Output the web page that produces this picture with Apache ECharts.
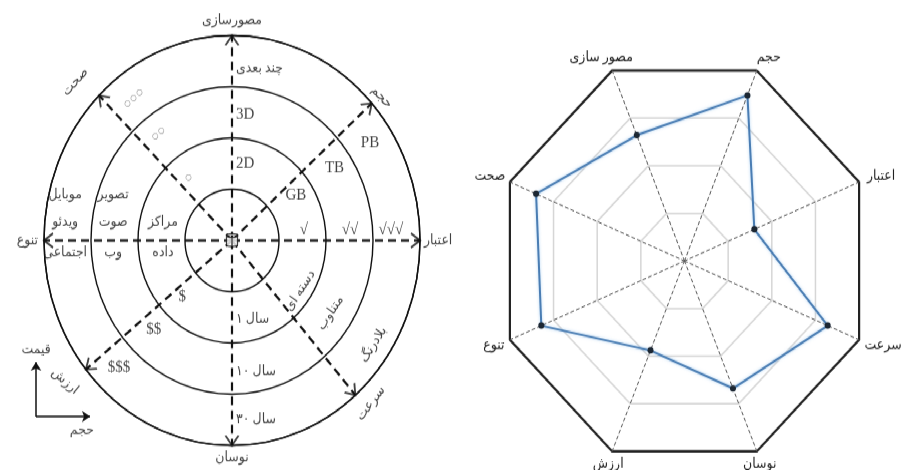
<!DOCTYPE html>
<html><head><meta charset="utf-8">
<script src="https://cdn.jsdelivr.net/npm/echarts@6/dist/echarts.min.js"></script>
<style>
html,body{margin:0;padding:0;background:#fff;overflow:hidden;width:903px;height:470px}
#wrap{width:903px;height:470px;position:relative;overflow:hidden}
#main{position:absolute;left:0;top:0;width:903px;height:431px;transform:scaleY(1.0905);transform-origin:0 0}
</style></head><body><div id="wrap"><div id="main"></div></div>
<script>
// ---------- data: left concept diagram ----------
const axisNames = ['مصورسازی','حجم','اعتبار','سرعت','نوسان','ارزش','تنوع','صحت'];
const tierLabels = [
  ['2D','3D','چند بعدی'],
  ['GB','TB','PB'],
  ['√','√√','√√√'],
  ['دسته ای','متناوب','بلادرنگ'],
  ['۱ سال','۱۰ سال','۳۰ سال'],
  ['$','$$','$$$'],
  ['مراکز\nداده','تصویر\nصوت\nوب','موبایل\nویدئو\nاجتماعی'],
  ['○','○○','○○○']
];
const ringCount = 4;
const legendNames = ['قیمت','حجم'];

// ---------- data: radar ----------
const radarIndicators = ['حجم','مصور سازی','صحت','تنوع','ارزش','نوسان','سرعت','اعتبار'];
const radarValues = [0.87,0.66,0.85,0.82,0.47,0.67,0.82,0.40];

// ---------- layout / style (not data) ----------
const FONT = "'Liberation Serif','DejaVu Serif','DejaVu Sans',serif";
const UNIT = 47;
const axisAngle = [90,42,0,311,270,219,180,135];
const nameLayout = [
  {r:4, a:90, pos:'top', dist:7},
  {r:4.24, a:41.3, rot:-45},
  {r:4, a:0, pos:'right', dist:4},
  {r:4.34, a:312.9, rot:50},
  {r:4, a:270, pos:'bottom', dist:5},
  {r:4.49, a:217.7, rot:-40},
  {r:4, a:180, pos:'left', dist:6},
  {r:4.55, a:137.1, rot:45}
];
const tierLayout = [
  {a:90, r:[1.50,2.46,3.36], pos:'right', dist:4},
  {a:33, r:[1.62,2.6,3.5]},
  {a:0, r:[1.53,2.51,3.38], pos:'top', dist:2},
  {a:326, r:[1.75,2.53,3.63], rot:55},
  {a:270, r:[1.54,2.56,3.49], pos:'right', dist:4},
  {a:226, r:[1.52,2.4,3.46]},
  {a:180, r:[1.47,2.53,3.55], split:true},
  {a:127, r:[1.53,2.6,3.47], rot:40, color:'#7a7a7a', size:13}
];
// horizontal shift (px) of each radar name, same order as radarIndicators
const radarNameShift = [7,-6,-8,-4,1,-2,12,10];

const isLatin = s => /[A-Za-z$√]/.test(s);

const axisLineSeries = axisAngle.map(a => ({
  type:'line', coordinateSystem:'polar', polarIndex:0,
  data:[[0,a],[ringCount,a]], symbol:'none', silent:true,
  lineStyle:{color:'#111', width:2.2, type:[8,5]}, z:3
}));

const arrowData = axisAngle.map(a => ({value:[ringCount - 4.5/UNIT, a], symbolRotate:a-90}));

// label offsets are applied in the rotated text frame, so convert a screen shift into it
function localOffset(dx, dy, rotDeg) {
  const t = rotDeg * Math.PI / 180, c = Math.cos(t), s = Math.sin(t);
  return [dx*c - dy*s, dx*s + dy*c];
}

const nameData = axisNames.map((n,i) => {
  const L = nameLayout[i];
  const extra = (L.r - ringCount) * UNIT, rad = L.a * Math.PI / 180;
  const rot = L.rot || 0;
  return {value:[ringCount, L.a], label:{formatter:n, position:L.pos||'inside', distance:L.dist||0,
    rotate:rot, offset:localOffset(extra*Math.cos(rad), -extra*Math.sin(rad), rot)}};
});

const tierData = [];
tierLabels.forEach((tiers,i) => {
  const L = tierLayout[i];
  tiers.forEach((t,k) => {
    const fs = L.size || (isLatin(t) ? 15 : 12.5);
    if (L.split) {
      const lines = t.split('\n');
      const below = lines.pop();
      tierData.push({value:[L.r[k], L.a], label:{formatter:lines.join('\n'), position:'top', distance:4, fontSize:fs, lineHeight:25}});
      tierData.push({value:[L.r[k], L.a], label:{formatter:below, position:'bottom', distance:5, fontSize:fs}});
    } else {
      tierData.push({value:[L.r[k], L.a], label:{formatter:t, position:L.pos||'inside', distance:L.dist||0, rotate:L.rot||0, color:L.color||'#111', fontSize:fs}});
    }
  });
});

const nameRich = {};
radarNameShift.forEach((s,i) => {
  nameRich['n'+i] = {fontSize:12.5, fontFamily:FONT, color:'#222',
    padding: s >= 0 ? [0,0,0,2*s] : [0,-2*s,0,0]};
});

const option = {
  animation:false,
  backgroundColor:'#fff',
  textStyle:{fontFamily:FONT},
  polar:{center:[232, 220.5], radius:188},
  angleAxis:{type:'value', min:0, max:360, startAngle:0, clockwise:false,
    axisLine:{show:true, lineStyle:{color:'#111', width:1.4}}, axisTick:{show:false},
    axisLabel:{show:false}, splitLine:{show:false}},
  radiusAxis:{type:'value', min:0, max:ringCount, interval:1,
    axisLine:{show:false}, axisTick:{show:false}, axisLabel:{show:false},
    splitLine:{show:true, lineStyle:{color:'#111', width:1.4}}},
  grid:{left:36, top:332, width:54, height:50, show:false},
  xAxis:{type:'value', min:0, max:1, show:false},
  yAxis:{type:'value', min:0, max:1, show:false},
  radar:[
    {center:[684.5, 239.3], radius:189, startAngle:67.5, shape:'polygon', splitNumber:4,
     indicator: radarIndicators.map(n => ({name:n, max:1, min:0})),
     nameGap:13,
     axisName:{color:'#222', fontSize:12.5, fontFamily:FONT, align:'center',
       formatter:(name) => '{n' + radarIndicators.indexOf(name) + '|' + name + '}', rich:nameRich},
     splitLine:{lineStyle:{color:'#d6d6d6', width:1.5}},
     splitArea:{show:false},
     axisLine:{lineStyle:{color:'#555', width:1, type:[3,3]}},
     axisTick:{show:false}, axisLabel:{show:false}},
    {center:[684.5, 239.3], radius:189, startAngle:67.5, shape:'polygon', splitNumber:1,
     indicator: radarIndicators.map(n => ({name:'', max:1, min:0})),
     axisName:{show:false},
     splitLine:{lineStyle:{color:'#222', width:2.2}},
     splitArea:{show:false}, axisLine:{show:false}, axisTick:{show:false}, axisLabel:{show:false}}
  ],
  series:[
    ...axisLineSeries,
    {type:'scatter', coordinateSystem:'polar', data:arrowData, silent:true,
     symbol:'path://M0,9 L6,0 L12,9', symbolSize:[13,9],
     itemStyle:{color:'none', borderColor:'#111', borderWidth:1.7}, z:4},
    {type:'scatter', coordinateSystem:'polar', data:[[0,0]], silent:true,
     symbol:'path://M0,2 C0,0 10,0 10,2 C10,4 0,4 0,2 Z M0,2 L0,10 C0,12 10,12 10,10 L10,2 M5,4 L5,12',
     symbolSize:[11,12], itemStyle:{color:'#fff', borderColor:'#111', borderWidth:1.3}, z:5},
    {type:'scatter', coordinateSystem:'polar', data:nameData, symbolSize:0, silent:true, clip:false,
     label:{show:true, color:'#111', fontSize:12.5, fontFamily:FONT}},
    {type:'scatter', coordinateSystem:'polar', data:tierData, symbolSize:0, silent:true, clip:false,
     label:{show:true, color:'#111', fontFamily:FONT}},
    {type:'lines', coordinateSystem:'cartesian2d', silent:true, clip:false,
     data:[{coords:[[0,0],[0,1]]},{coords:[[0,0],[1,0]]}],
     symbol:['none','arrow'], symbolSize:8,
     lineStyle:{color:'#111', width:1.5, opacity:1, curveness:0}},
    {type:'scatter', coordinateSystem:'cartesian2d', symbolSize:0, silent:true, clip:false,
     data:[{value:[0,1], label:{formatter:legendNames[0], position:'top', distance:5}},
           {value:[0.85,0], label:{formatter:legendNames[1], position:'bottom', distance:6}}],
     label:{show:true, color:'#111', fontSize:12.5, fontFamily:FONT}},
    {type:'radar', radarIndex:0, silent:true,
     data:[{value:radarValues}],
     symbol:'circle', symbolSize:6,
     itemStyle:{color:'#1c2733'},
     lineStyle:{color:'#4a7db3', width:2, shadowColor:'rgba(120,180,235,0.6)', shadowBlur:3},
     z:5}
  ]
};
const chart = echarts.init(document.getElementById('main'));
chart.setOption(option);
</script>
</body></html>
